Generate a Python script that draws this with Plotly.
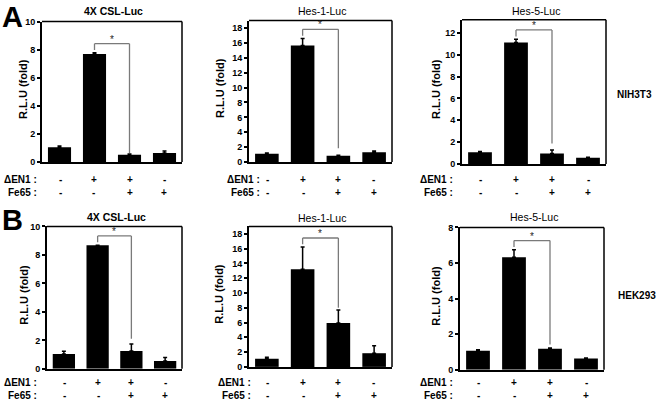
import plotly.graph_objects as go

W, H = 656, 407

# ---------------- data ----------------
conditions = ["ctrl", "dEN1", "dEN1+Fe65", "Fe65"]
den1_signs = ["-", "+", "+", "-"]
fe65_signs = ["-", "-", "+", "+"]

titles = ["4X CSL-Luc", "Hes-1-Luc", "Hes-5-Luc", "4X CSL-Luc", "Hes-1-Luc", "Hes-5-Luc"]

a_csl_mean = [1.05, 7.7, 0.52, 0.65]
a_csl_err = [0.1, 0.08, 0.05, 0.13]
a_hes1_mean = [1.1, 15.65, 0.85, 1.3]
a_hes1_err = [0.1, 0.95, 0.05, 0.2]
a_hes5_mean = [1.07, 11.1, 0.95, 0.56]
a_hes5_err = [0.08, 0.3, 0.32, 0.05]

b_csl_mean = [1.05, 8.68, 1.25, 0.55]
b_csl_err = [0.18, 0.0, 0.5, 0.25]
b_hes1_mean = [1.1, 13.2, 5.95, 1.85]
b_hes1_err = [0.2, 3.0, 1.75, 1.0]
b_hes5_mean = [1.07, 6.32, 1.18, 0.64]
b_hes5_err = [0.06, 0.42, 0.04, 0.02]

means = [a_csl_mean, a_hes1_mean, a_hes5_mean, b_csl_mean, b_hes1_mean, b_hes5_mean]
errs = [a_csl_err, a_hes1_err, a_hes5_err, b_csl_err, b_hes1_err, b_hes5_err]
y_max = [10, 19, 13.2, 10, 19, 8]
y_dtick = [2, 2, 2, 2, 2, 2]
y_tick_top = [10, 18, 12, 10, 18, 8]

# ---------------- layout (pixel boxes) ----------------
# x0, x1, ytop, ybottom
boxes = [
    (42, 182, 17, 161),
    (249, 392, 16, 161),
    (462, 606, 15, 163),
    (47, 182, 227, 373),
    (249, 392, 227, 371),
    (460, 604, 228, 374),
]
ytitle_x = [23, 220, 436, 24, 219, 436]
rowlabel_right = [39, 262, 455, 39, 253, 455]
row_y = [(179, 192), (179, 192), (179, 192), (387, 400), (387, 400), (387, 400)]
title_y = [6, 6, 6, 217, 218, 217]
right_drop_frac = [0.008, 0.05, 0.046, 0.036, 0.016, 0.025]
X_RANGE = (-0.5, 3.5)

def px(x):
    return x / W

def py(y):
    return 1 - y / H

FONT = "Liberation Sans, Arial, sans-serif"

fig = go.Figure()
shapes = []
annotations = []

for i in range(6):
    n = i + 1
    xa = "x" if n == 1 else f"x{n}"
    ya = "y" if n == 1 else f"y{n}"
    x0, x1, yt, yb = boxes[i]
    fig.add_trace(go.Bar(
        x=list(range(len(conditions))), y=means[i],
        marker=dict(color="black", line=dict(width=0)),
        width=0.66,
        error_y=dict(type="data", symmetric=False, array=errs[i],
                     arrayminus=[0] * 4, color="black", thickness=1.5, width=2),
        xaxis=xa, yaxis=ya, showlegend=False, hoverinfo="skip",
    ))
    xkey = "xaxis" if n == 1 else f"xaxis{n}"
    ykey = "yaxis" if n == 1 else f"yaxis{n}"
    fig.layout[xkey] = dict(domain=[px(x0), px(x1)], range=list(X_RANGE),
                            anchor=ya, showline=True, linewidth=2, linecolor="black",
                            showticklabels=False, ticks="", showgrid=False, zeroline=False,
                            fixedrange=True)
    fig.layout[ykey] = dict(domain=[py(yb), py(yt)], range=[0, y_max[i]],
                            anchor=xa, showline=True, linewidth=2, linecolor="black",
                            tickmode="array",
                            tickvals=list(range(0, y_tick_top[i] + 1, y_dtick[i])),
                            ticks="outside", ticklen=3, tickwidth=1.5, tickcolor="black",
                            tickfont=dict(family=FONT, size=9, color="black", weight="bold"),
                            showgrid=False, zeroline=False, fixedrange=True)
    # top & right frame lines
    shapes.append(dict(type="line", xref=f"{xa} domain", yref=f"{ya} domain",
                       x0=0, x1=1, y0=1, y1=1, line=dict(color="black", width=1.5)))
    shapes.append(dict(type="line", xref=f"{xa} domain", yref=f"{ya} domain",
                       x0=1, x1=1, y0=0, y1=1, line=dict(color="black", width=1.5)))
    # significance bracket between bar 2 and bar 3
    top2 = means[i][1] + errs[i][1]
    top3 = means[i][2] + errs[i][2]
    rng = y_max[i]
    by = top2 + 0.065 * rng
    ly = top2 + 0.02 * rng
    ry = top3 + right_drop_frac[i] * rng
    gray = "#7a7a7a"
    shapes.append(dict(type="line", xref=xa, yref=ya, x0=1, x1=2, y0=by, y1=by,
                       line=dict(color=gray, width=1.3)))
    shapes.append(dict(type="line", xref=xa, yref=ya, x0=1, x1=1, y0=ly, y1=by,
                       line=dict(color=gray, width=1.3)))
    shapes.append(dict(type="line", xref=xa, yref=ya, x0=2, x1=2, y0=ry, y1=by,
                       line=dict(color=gray, width=1.3)))

    # helper: category -> pixel x within this panel
    def cat_px(c, x0=x0, x1=x1):
        return round(x0 + (c - X_RANGE[0]) / (X_RANGE[1] - X_RANGE[0]) * (x1 - x0))

    def val_py(v, yt=yt, yb=yb, rng=rng):
        return round(yb - v / rng * (yb - yt))

    annotations.append(dict(text="*", xref="paper", yref="paper",
                            x=px(cat_px(1.5)), y=py(val_py(by) - 5),
                            xanchor="center", yanchor="middle", opacity=0.99,
                            showarrow=False, font=dict(family=FONT, size=10, color="#222222")))
    # panel title
    annotations.append(dict(text=titles[i], xref="paper", yref="paper",
                            x=px(round((x0 + x1) / 2) + 2), y=py(title_y[i]), showarrow=False,
                            xanchor="center", yanchor="middle",
                            font=dict(family=FONT, size=10.5, color="black",
                                      weight="bold" if i % 3 == 0 else "normal")))
    # y axis title
    annotations.append(dict(text="R.L.U (fold)", xref="paper", yref="paper",
                            x=px(ytitle_x[i]), y=py(round((yt + yb) / 2) - 3), textangle=-90,
                            showarrow=False, xanchor="center", yanchor="middle",
                            font=dict(family=FONT, size=11, color="black", weight="bold")))
    # row labels
    r1, r2 = row_y[i]
    for lab, ry_ in (("ΔEN1 :", r1), ("Fe65 :", r2)):
        annotations.append(dict(text=lab, xref="paper", yref="paper",
                                x=px(rowlabel_right[i]), y=py(ry_), showarrow=False,
                                xanchor="right", yanchor="middle",
                                font=dict(family=FONT, size=10, color="black", weight="bold")))
    for k in range(4):
        for sign, ry_ in ((den1_signs[k], r1), (fe65_signs[k], r2)):
            annotations.append(dict(text=sign, xref="paper", yref="paper",
                                    x=px(cat_px(k)), y=py(ry_), showarrow=False,
                                    xanchor="center", yanchor="middle", opacity=0.99,
                                    font=dict(family=FONT, size=10, color="black", weight="bold")))

# panel letters and cell-line labels
annotations.append(dict(text="A", xref="paper", yref="paper", x=px(0), y=py(12),
                        xanchor="left", yanchor="middle", showarrow=False,
                        font=dict(family=FONT, size=29, color="black", weight="bold")))
annotations.append(dict(text="B", xref="paper", yref="paper", x=px(0), y=py(220),
                        xanchor="left", yanchor="middle", showarrow=False,
                        font=dict(family=FONT, size=29, color="black", weight="bold")))
annotations.append(dict(text="NIH3T3", xref="paper", yref="paper", x=px(615), y=py(92),
                        xanchor="left", yanchor="middle", showarrow=False,
                        font=dict(family=FONT, size=10, color="black", weight="bold")))
annotations.append(dict(text="HEK293", xref="paper", yref="paper", x=px(616), y=py(298),
                        xanchor="left", yanchor="middle", showarrow=False,
                        font=dict(family=FONT, size=10, color="black", weight="bold")))

fig.update_layout(width=W, height=H, margin=dict(l=0, r=0, t=0, b=0),
                  paper_bgcolor="white", plot_bgcolor="white",
                  shapes=shapes, annotations=annotations, bargap=0.3)

fig.write_html("out.html", config={"displayModeBar": False},
               post_script="document.body.style.margin='0';document.body.style.padding='0';")
